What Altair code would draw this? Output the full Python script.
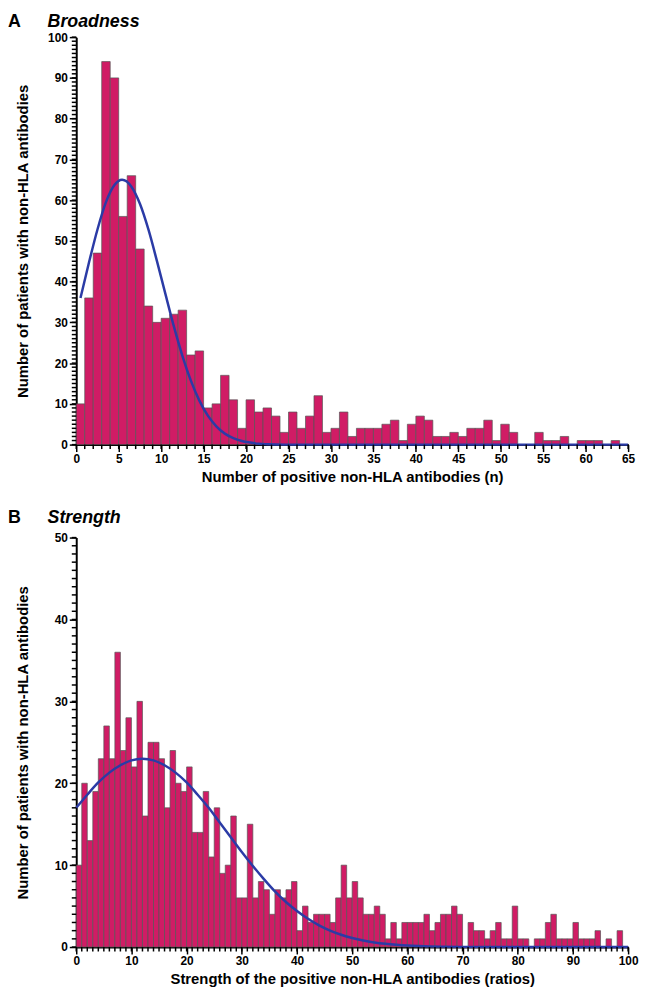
import altair as alt
import pandas as pd
import numpy as np

FONT = "Liberation Sans"
BAR_FILL = "#D01C65"
BAR_STROKE = "#555555"
CURVE = "#2B3BA6"

# ---------------- Panel A: Broadness ----------------
a_counts = [10, 36, 47, 94, 90, 56, 66, 48, 34, 30, 31, 32, 33, 22, 23, 9, 10, 17, 11, 4,
            11, 8, 9, 7, 3, 8, 4, 7, 12, 3, 4, 8, 2, 4, 4, 4, 5, 6, 1, 5,
            7, 6, 2, 2, 3, 2, 4, 4, 6, 1, 5, 3, 0, 0, 3, 1, 1, 2, 0, 1,
            1, 1, 0, 1, 0]
a_curve_x = [0.5, 1.5, 2.5, 3.5, 4.5, 5.4, 6.5, 7.5, 8.5, 9.5, 10.5, 11.5, 12.5, 13.5,
             14.5, 15.5, 16.5, 17.5, 18.5, 19.5, 20.5, 21.5, 22.5, 24.5, 65]
a_curve_y = [36, 44.7, 52.8, 59.5, 63.7, 65, 63.3, 59.1, 52.8, 45.1, 37, 29, 21.8, 15.7,
             10.8, 7.1, 4.5, 2.7, 1.6, 0.9, 0.5, 0.2, 0.1, 0, 0]
a_x_major = list(range(0, 66, 5))
a_y_major = list(range(0, 101, 10))
a_x_minor = list(range(0, 66))
a_y_minor = list(range(0, 101))

# ---------------- Panel B: Strength ----------------
b_counts = [10, 20, 13, 19, 23, 27, 23, 36, 24, 28, 22, 30, 16, 25, 25, 23, 17, 24, 20, 19,
            22, 14, 14, 19, 11, 17, 9, 10, 16, 6, 6, 15, 6, 8, 7, 4, 7, 6, 7, 8,
            2, 5, 3, 4, 4, 4, 3, 6, 10, 6, 8, 6, 4, 4, 5, 4, 1, 3, 1, 3,
            3, 3, 3, 4, 2, 3, 4, 4, 5, 4, 0, 3, 2, 2, 1, 2, 3, 1, 1, 5,
            1, 1, 0, 1, 1, 3, 4, 1, 1, 1, 3, 1, 1, 1, 2, 0, 1, 0, 2, 0]
b_curve_x = [0, 2, 4, 6, 8, 10, 12, 14, 16, 18, 20, 22, 24, 26, 28, 30, 32, 34, 36, 38,
             40, 42, 44, 46, 48, 50, 52, 54, 56, 58, 60, 62, 64, 66, 70, 80, 100]
b_curve_y = [17.0, 18.6, 20.1, 21.3, 22.2, 22.8, 23.0, 22.8, 22.2, 21.3, 20.1, 18.6, 17.0,
             15.2, 13.4, 11.6, 9.9, 8.3, 6.8, 5.5, 4.4, 3.45, 2.65, 2.0, 1.5, 1.1, 0.79,
             0.56, 0.39, 0.27, 0.18, 0.12, 0.08, 0.05, 0.02, 0, 0]
b_x_major = list(range(0, 101, 5))
b_y_major = list(range(0, 51, 10))
b_x_minor = list(range(0, 101))
b_y_minor = list(range(0, 51))

Y_TITLE = "Number of patients with non-HLA antibodies"
W = 558


def panel(counts, cx, cy, xmax, ymax, xmaj, ymaj, xmin_, ymin_, xtitle, letter, name, h, ly):
    start = np.arange(len(counts))
    bars_df = pd.DataFrame({"start": start, "end": start + 1, "count": counts})
    curve_df = pd.DataFrame({"x": cx, "y": cy})

    xs = alt.Scale(domain=[0, xmax], nice=False, zero=False)
    ys = alt.Scale(domain=[0, ymax], nice=False)

    x_axis = alt.Axis(values=xmaj, labelOverlap=False, labelFlush=False,
                      tickSize=7, labelPadding=2, titlePadding=5)
    y_axis = alt.Axis(values=ymaj, labelOverlap=False, labelFlush=False,
                      tickSize=7, labelPadding=2,
                      titleX=-54, titleY=h / 2, titleAngle=270,
                      titleAlign="center", titleBaseline="middle")

    bars = alt.Chart(bars_df).mark_bar(
        color=BAR_FILL, stroke=BAR_STROKE, strokeWidth=0.7
    ).encode(
        x=alt.X("start:Q", scale=xs, axis=x_axis, title=xtitle),
        x2="end:Q",
        y=alt.Y("count:Q", scale=ys, axis=y_axis, title=Y_TITLE),
        y2=alt.datum(0),
    )
    curve = alt.Chart(curve_df).mark_line(
        color=CURVE, strokeWidth=2.5, interpolate="monotone"
    ).encode(x="x:Q", y="y:Q")

    xminor = alt.Chart(pd.DataFrame({"v": xmin_})).mark_rule(
        color="black", strokeWidth=1.5
    ).encode(x="v:Q", y=alt.value(h), y2=alt.value(h + 4.5))
    yminor = alt.Chart(pd.DataFrame({"v": ymin_})).mark_rule(
        color="black", strokeWidth=1.5
    ).encode(y="v:Q", x=alt.value(0), x2=alt.value(-4.5))

    lab = alt.Chart(pd.DataFrame({"t": [letter]})).mark_text(
        align="left", baseline="top", fontSize=18, fontWeight="bold", font=FONT, color="black"
    ).encode(x=alt.value(-69), y=alt.value(ly), text="t:N")
    ttl = alt.Chart(pd.DataFrame({"t": [name]})).mark_text(
        align="left", baseline="top", fontSize=18, fontWeight="bold", fontStyle="italic",
        font=FONT, color="black"
    ).encode(x=alt.value(-29), y=alt.value(ly), text="t:N")

    return alt.layer(bars, curve, xminor, yminor, lab, ttl).properties(width=W, height=h)


pa = panel(a_counts, a_curve_x, a_curve_y, 65, 100, a_x_major, a_y_major, a_x_minor, a_y_minor,
           "Number of positive non-HLA antibodies (n)", "A", "Broadness", 412, -24)
pb = panel(b_counts, b_curve_x, b_curve_y, 100, 50, b_x_major, b_y_major, b_x_minor, b_y_minor,
           "Strength of the positive non-HLA antibodies (ratios)", "B", "Strength", 414, -29)

chart = alt.vconcat(pa, pb, spacing=25).properties(padding=0).configure_view(
    stroke=None
).configure_axis(
    grid=False,
    domainColor="black",
    domainWidth=2,
    tickColor="black",
    tickWidth=1.5,
    labelFont=FONT,
    labelFontSize=12,
    labelFontWeight="bold",
    labelColor="black",
    titleFont=FONT,
    titleFontSize=15,
    titleFontWeight="bold",
    titleColor="black",
)

chart.save("out.html", embed_options={"renderer": "svg", "actions": False})
